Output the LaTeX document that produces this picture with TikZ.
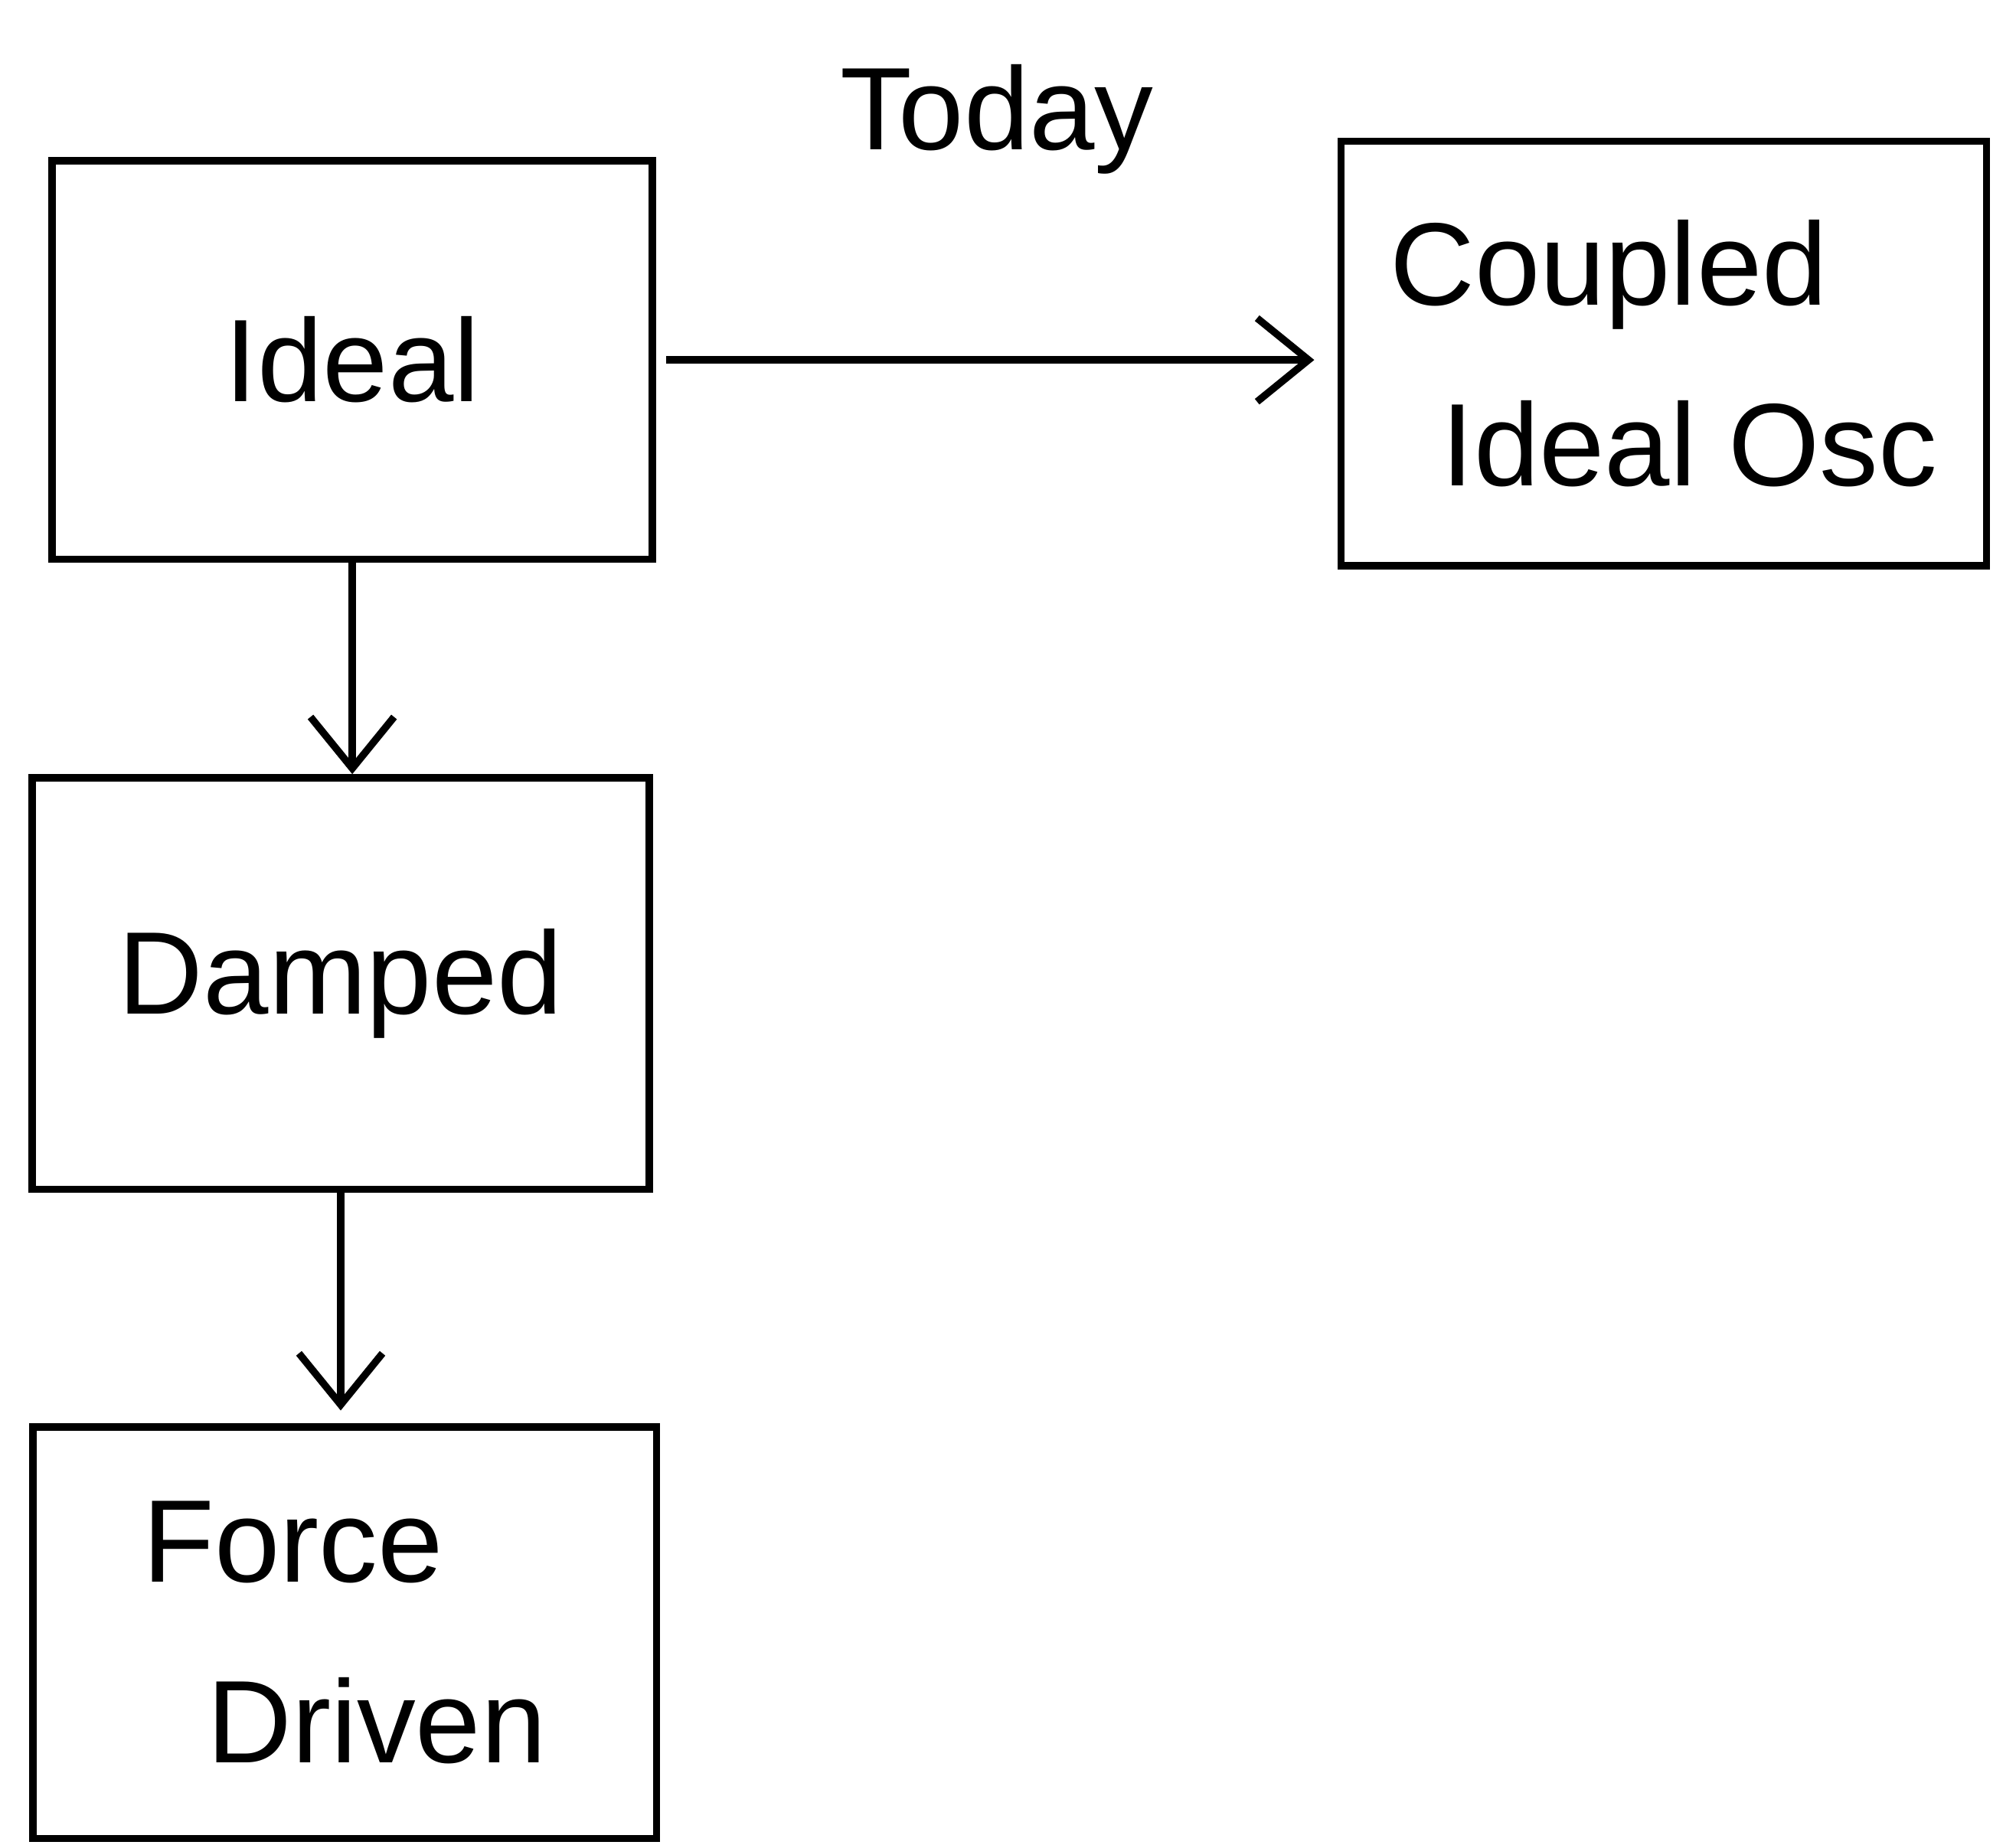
\documentclass[tikz,border=0pt]{standalone}
\usepackage{fontspec}
\setmainfont{Liberation Sans}
\usepackage{tikz}
\usetikzlibrary{arrows.meta,positioning}

\begin{document}
\begin{tikzpicture}[>={Straight Barb[length=4mm, width=6.5mm]}, line width=1.6pt,
      font=\fontsize{26}{40}\selectfont,
      box/.style={draw, inner sep=0pt, align=center},
      flow/.style={->}]
      \useasboundingbox (0,0) rectangle (15.68,14.35);
      \node[box, minimum width=46.7mm, minimum height=31mm] (ideal)   at (2.74,11.55) {Ideal};
      \node[box, minimum width=50.2mm, minimum height=33mm, align=left] (coupled) at (12.94,11.60)
            {Coupled\\\hspace{4mm}Ideal Osc};
      \node[box, minimum width=48mm, minimum height=32mm]   (damped)  at (2.65,6.70)  {Damped};
      \node[box, minimum width=48.5mm, minimum height=32mm, align=left] (force) at (2.68,1.65)
            {Force\\\hspace{5mm}Driven};
      \draw[flow, shorten <=0.8mm, shorten >=1.8mm] (ideal.east) -- (ideal.east -| coupled.west)
            node[midway, above=13mm] (today) {Today};
      \draw[flow] (ideal.south) -- (ideal.south |- damped.north);
      \draw[flow, shorten >=1mm] (damped.south) -- (damped.south |- force.north);
    \end{tikzpicture}
\end{document}
